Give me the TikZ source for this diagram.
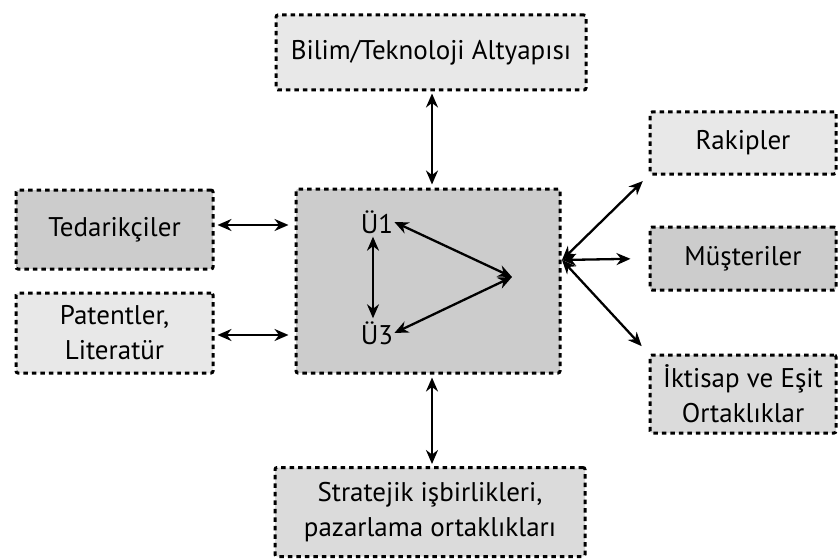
\documentclass[tikz,border=0pt]{standalone}
\usepackage{fontspec}
\setmainfont{PT Sans}
\usepackage{tikz}
\usetikzlibrary{calc,arrows.meta,positioning}
\usepackage{xcolor}
\definecolor{boxlight}{gray}{0.91}
\definecolor{boxmid}{gray}{0.80}
\definecolor{boxsoft}{gray}{0.86}
\tikzset{
  block/.style={draw=black, line width=3pt, dash pattern=on 4.5pt off 4pt,
    rounded corners=2pt, align=center, inner sep=4pt, font=\fontsize{27}{35}\selectfont},
  lightblock/.style={block, fill=boxlight},
  midblock/.style={block, fill=boxmid},
  softblock/.style={block, fill=boxsoft},
  side/.style={minimum width=197pt, minimum height=79pt},
  rside/.style={minimum width=186pt},
  lbl/.style={font=\fontsize{27}{30}\selectfont, inner sep=1pt},
  arr/.style={{Stealth[length=14pt,width=12pt]}-{Stealth[length=14pt,width=12pt]}, line width=2.3pt}
}

\begin{document}
\begin{tikzpicture}[x=1pt, y=-1pt]
  \useasboundingbox (0,0) rectangle (838,559);
  % centre box
  \node[midblock, minimum width=264pt, minimum height=184pt] (mid) at (428,281) {};
  \node[lbl] (u1) at (377,222) {Ü1};
  \node[lbl] (u3) at (377,333) {Ü3};
  \coordinate (apex) at (512,277);
  \coordinate (hub) at (562,260);
  % outer boxes
  \node[lightblock, minimum width=310pt, minimum height=75pt] (bilim) at (431,52.5) {Bilim/Teknoloji Altyapısı};
  \node[softblock, minimum width=310pt, minimum height=89pt] (str) at (430,512) {Stratejik işbirlikleri,\\pazarlama ortaklıkları};
  \node[midblock, side] (ted) at (114.5,229.5) {Tedarikçiler};
  \node[lightblock, side, minimum height=80pt] (pat) at (114.5,333) {Patentler,\\Literatür};
  \node[lightblock, rside, minimum height=62pt] (rak) at (743,143) {Rakipler};
  \node[midblock, rside, minimum height=63pt] (mus) at (743,258.5) {Müşteriler};
  \node[softblock, rside, minimum height=78pt] (ikt) at (743,394) {İktisap ve Eşit\\Ortaklıklar};

  % connectors
  \draw[arr, shorten <=2pt, shorten >=3pt] (bilim.south -| 432,0) -- (mid.north -| 432,0);
  \draw[arr, shorten <=3pt, shorten >=2pt] (mid.south -| 432,0) -- (str.north -| 432,0);
  \draw[arr, shorten <=3pt, shorten >=6pt] (ted.east |- 0,225) -- (mid.west |- 0,225);
  \draw[arr, shorten <=3pt, shorten >=6pt] (pat.east |- 0,335) -- (mid.west |- 0,335);
  \draw[arr, shorten >=8pt] (hub) -- (rak.south west);
  \draw[arr, shorten >=18pt] (hub) -- (mus.west);
  \draw[arr, shorten >=10pt] (hub) -- (ikt.north west);
  \draw[arr] (u1.east) -- (apex);
  \draw[arr] (u3.east) -- (apex);
  \draw[arr, shorten <=2pt, shorten >=2pt] (u1.south -| 373,0) -- (u3.north -| 373,0);
\end{tikzpicture}
\end{document}
